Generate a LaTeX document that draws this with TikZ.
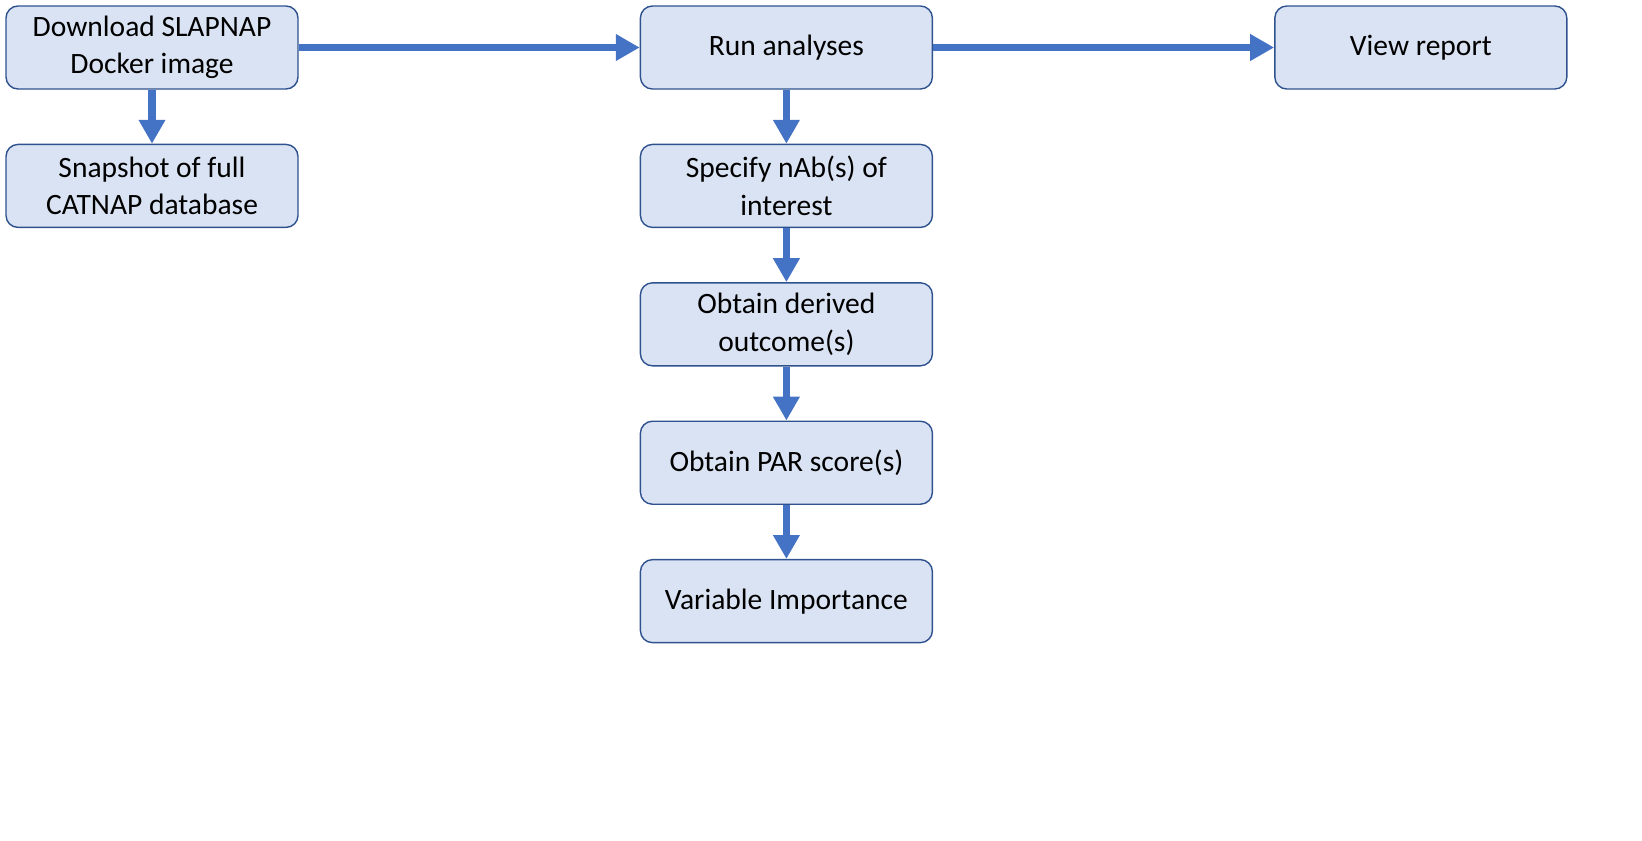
\documentclass[tikz,border=0pt]{standalone}
\usepackage{fontspec}
\setmainfont{Carlito}
\usetikzlibrary{arrows.meta,positioning}
\definecolor{boxfill}{HTML}{DAE3F3}
\definecolor{boxline}{HTML}{2F528F}
\definecolor{arrowblue}{HTML}{4472C4}
\begin{document}
\begin{tikzpicture}[
  stepbox/.style={draw=boxline,fill=boxfill,line width=1pt,rounded corners=0.3cm,
    minimum width=7.3cm,minimum height=2.075cm,align=center,inner sep=2pt,
    font=\fontsize{21}{26.5}\selectfont},
  flow/.style={draw=arrowblue,line width=5pt,-{Triangle[length=17pt,width=18pt]}},
  node distance=1.35cm and 8.525cm]
\useasboundingbox (0,0) rectangle (41.05,-21);
\node[stepbox] (dl) at (3.8,-1.1875) {Download SLAPNAP\\Docker image};
\node[stepbox,below=of dl] (snap) {Snapshot of full\\CATNAP database};
\node[stepbox,right=of dl] (run) {Run analyses};
\node[stepbox,right=of run] (view) {View report};
\node[stepbox,below=of run] (spec) {Specify nAb(s) of\\interest};
\node[stepbox,below=of spec] (deriv) {Obtain derived\\outcome(s)};
\node[stepbox,below=of deriv] (par) {Obtain PAR score(s)};
\node[stepbox,below=of par] (vimp) {Variable Importance};
\draw[flow] (dl) -- (snap);
\draw[flow] (dl) -- (run);
\draw[flow] (run) -- (view);
\draw[flow] (run) -- (spec);
\draw[flow] (spec) -- (deriv);
\draw[flow] (deriv) -- (par);
\draw[flow] (par) -- (vimp);
\end{tikzpicture}
\end{document}
